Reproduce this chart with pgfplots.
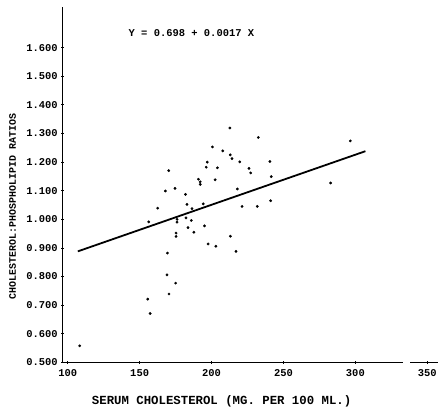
\documentclass[border=0pt]{standalone}
\usepackage{fontspec}
\setmainfont{Liberation Mono}
\usepackage{pgfplots}
\pgfplotsset{compat=1.18}
\usepackage{pgfplotstable}

% serum cholesterol vs cholesterol:phospholipid ratio
\pgfplotstableread{
x y
212.7 1.319
232.5 1.286
296.5 1.274
200.6 1.253
207.8 1.239
213.0 1.225
214.2 1.212
219.6 1.201
240.6 1.202
197.0 1.200
196.3 1.182
204.1 1.180
226.0 1.178
170.2 1.170
227.2 1.162
241.5 1.149
190.9 1.140
202.5 1.138
192.1 1.131
192.1 1.122
282.8 1.127
174.6 1.108
217.9 1.106
167.9 1.099
181.9 1.087
241.1 1.065
194.2 1.054
182.9 1.052
221.2 1.045
231.8 1.045
162.5 1.039
186.4 1.037
182.2 1.005
176.0 1.000
176.0 0.990
185.9 0.996
156.3 0.991
195.1 0.977
183.6 0.971
187.7 0.955
175.3 0.952
213.1 0.941
175.3 0.940
197.6 0.914
203.0 0.906
217.0 0.888
169.3 0.882
169.0 0.806
175.0 0.777
170.4 0.739
155.6 0.721
157.3 0.671
108.3 0.558
}\scatterdata

\begin{document}
\begin{tikzpicture}
\begin{axis}[
  scale only axis,
  width=377pt, height=357pt,
  xmin=96.5, xmax=357.5,
  ymin=0.5, ymax=1.742,
  axis y line=left,
  axis x line=bottom,
  axis line style={line width=1.3pt, -},
  x axis line style={draw=none},
  xtick={100,150,200,250,300,350},
  ytick={0.5,0.6,0.7,0.8,0.9,1.0,1.1,1.2,1.3,1.4,1.5,1.6},
  yticklabel style={/pgf/number format/.cd, fixed, fixed zerofill, precision=3},
  ticklabel style={font=\fontsize{10.5}{12}\selectfont\bfseries},
  xticklabel style={yshift=-2pt},
  /pgf/number format/assume math mode=true,
  tick align=center,
  major tick length=3pt,
  tick style={line width=0.8pt, black},
  clip=false,
]
  % broken x axis, drawn as two pieces
  \draw[line width=1.3pt] (axis cs:96.5,0.5) -- (axis cs:333,0.5);
  \draw[line width=1.3pt] (axis cs:338,0.5) -- (axis cs:357.5,0.5);
  \addplot[only marks, mark=*, mark size=1.2pt, black] table[x=x, y=y] {\scatterdata};
  \addplot[black, line width=1.8pt] coordinates {(107,0.888) (307,1.238)};
  \node[font=\fontsize{10.5}{12}\selectfont\bfseries] at (axis cs:186,1.652) {Y = 0.698 + 0.0017 X};
  \node[rotate=90, font=\fontsize{10}{12}\selectfont\bfseries] at (axis cs:61.7,1.045) {CHOLESTEROL:PHOSPHOLIPID\ RATIOS};
  \node[font=\fontsize{12.4}{14}\selectfont\bfseries] at (axis cs:207,0.364) {SERUM CHOLESTEROL (MG. PER 100 ML.)};
  % page extent
  \path (axis cs:96.5,0.5) ++(-63pt,-50pt);
  \path (axis cs:357.5,1.742) ++(0pt,7pt);
\end{axis}
\end{tikzpicture}
\end{document}
